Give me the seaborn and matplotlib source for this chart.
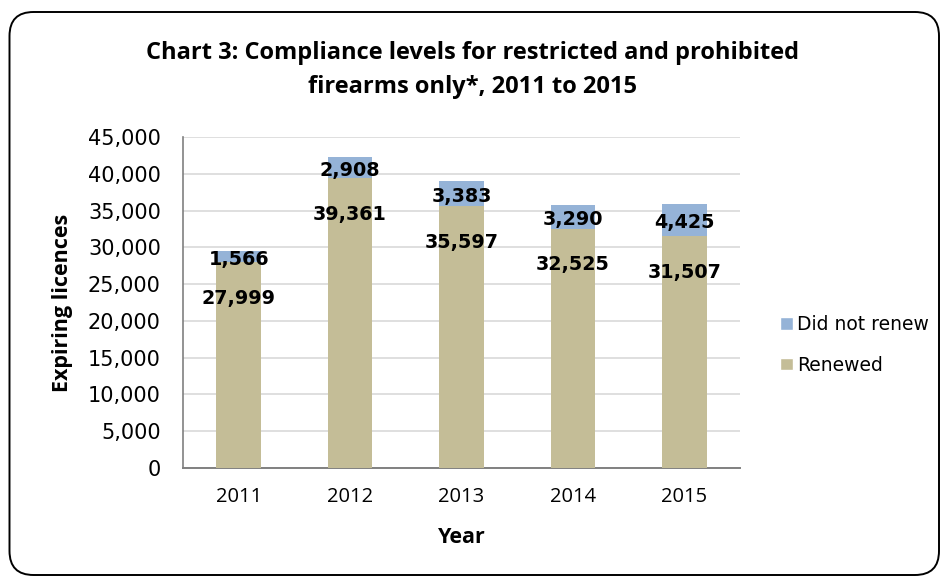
import matplotlib
matplotlib.use("Agg")
import matplotlib.pyplot as plt
import seaborn as sns
import pandas as pd
from matplotlib.patches import FancyBboxPatch, Patch

years = ["2011", "2012", "2013", "2014", "2015"]
renewed = [27999, 39361, 35597, 32525, 31507]
not_renewed = [1566, 2908, 3383, 3290, 4425]
yticks = [0, 5000, 10000, 15000, 20000, 25000, 30000, 35000, 40000, 45000]

c_renew = "#C4BD97"
c_not = "#95B3D7"

sns.set_theme(style="white")
plt.rcParams['font.family'] = ['Open Sans', 'DejaVu Sans']
plt.rcParams['text.color'] = 'black'
plt.rcParams['xtick.color'] = 'black'
plt.rcParams['ytick.color'] = 'black'
plt.rcParams['axes.labelcolor'] = 'black'

df = pd.DataFrame({"Year": years, "Renewed": renewed, "NotRenewed": not_renewed})
df["Total"] = df["Renewed"] + df["NotRenewed"]

W, H = 944, 577
fig = plt.figure(figsize=(W / 100, H / 100), dpi=100)
ax = fig.add_axes([183 / W, 1 - 468 / H, (740 - 183) / W, (468 - 137) / H])

sns.barplot(data=df, x="Year", y="Total", color=c_not, width=0.40, ax=ax,
            saturation=1, edgecolor="none", zorder=2)
sns.barplot(data=df, x="Year", y="Renewed", color=c_renew, width=0.40, ax=ax,
            saturation=1, edgecolor="none", zorder=3)

ax.set_ylim(0, 45000)
ax.set_xlim(-0.5, 4.5)
ax.set_yticks(yticks)
ax.set_yticklabels([f"{v:,}" for v in yticks], fontsize=15, family="DejaVu Sans")
ax.set_xticks(range(len(years)))
ax.set_xticklabels(years, fontsize=14.5, family="Open Sans")
ax.tick_params(axis="x", pad=14, length=0)
ax.tick_params(axis="y", length=0, pad=16)
ax.yaxis.grid(True, color="#D9D9D9", linewidth=1.2, zorder=0)
ax.set_axisbelow(True)
for s in ["top", "right"]:
    ax.spines[s].set_visible(False)
ax.spines["left"].set_color("#808080")
ax.spines["bottom"].set_color("#808080")
ax.spines["left"].set_linewidth(1.2)
ax.spines["bottom"].set_linewidth(1.4)

ax.set_xlabel("Year", fontsize=15.5, fontweight="bold", labelpad=14)
ax.set_ylabel("Expiring licences", fontsize=15.5, fontweight="bold", labelpad=11)

lab_font = dict(fontsize=13.8, fontweight="bold", family="DejaVu Sans", color="black",
                ha="center", va="center", zorder=5)
for i, (r, n) in enumerate(zip(renewed, not_renewed)):
    ax.annotate(f"{r:,}", (i, r), xytext=(0, -26), textcoords="offset points", **lab_font)
    ax.annotate(f"{n:,}", (i, r + n / 2), xytext=(0, -2), textcoords="offset points", **lab_font)

handles = [Patch(facecolor=c_not, label="Did not renew"),
           Patch(facecolor=c_renew, label="Renewed")]
fig.legend(handles=handles, loc="center left", bbox_to_anchor=(771 / W, 1 - 345 / H),
           frameon=False, handlelength=0.65, handleheight=0.65,
           handletextpad=0.25, labelspacing=1.15, borderpad=0,
           prop={"family": "DejaVu Sans", "size": 13.5})

fig.text(472 / W, 1 - 53 / H, "Chart 3: Compliance levels for restricted and prohibited",
         ha="center", va="center", fontsize=17, fontweight="bold")
fig.text(472 / W, 1 - 87 / H, "firearms only*, 2011 to 2015",
         ha="center", va="center", fontsize=17, fontweight="bold")

x0, y0, x1, y1 = 9.5, 12, 939, 575
frame = FancyBboxPatch((x0 / W, 1 - y1 / H), (x1 - x0) / W, (y1 - y0) / H,
                       boxstyle=f"round,pad=0,rounding_size={24 / W}",
                       transform=fig.transFigure, facecolor="none",
                       edgecolor="black", linewidth=1.4, mutation_aspect=W / H)
fig.patches.append(frame)

fig.savefig("out.png", dpi=100)
